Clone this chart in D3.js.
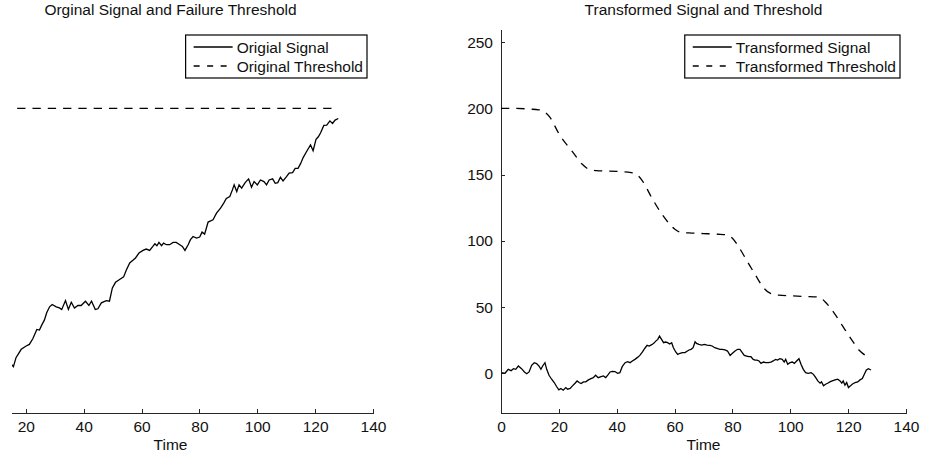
<!DOCTYPE html>
<meta charset="utf-8">
<style>

body {
  margin: 0;
  background-color: white;
}

text {
  font-family: "Liberation Sans", Arial, sans-serif;
  font-size: 15.5px;
  fill: #111;
}

.axis path,
.axis line {
  stroke: #262626;
  shape-rendering: crispEdges;
}

.signal, .threshold {
  fill: none;
  stroke: black;
  stroke-width: 1.3;
}

.threshold {
  stroke-dasharray: 8.3, 7;
}

</style>
<body>

<script src="https://d3js.org/d3.v7.min.js"></script>
<script>

// Original signal
var origTime = [15,15.7,16.6,18.4,20.1,21.2,22.4,23.8,24.7,25.6,26.4,27.2,28.2,29.1,30.5,31.6,32.4,33.7,34.7,35.7,
  36.8,38,39.1,40.6,41.8,42.7,44,44.9,46.1,47.8,48.9,49.9,51,52.4,53.8,54.7,55.9,57,57.9,59.1,
  60.5,61.6,62.8,63.9,64.6,65.3,66,66.9,67.6,68.6,69.7,70.9,72,73.2,74.1,75,76.1,76.9,77.8,79,
  80.1,80.9,81.8,83,84.7,85.9,87.3,88.4,89.3,90.5,91.4,92,92.9,93.7,94.6,95.8,97,98,98.9,100,
  101.1,102.3,103.2,104.1,105.3,106.2,107.1,108,108.9,110.1,111,112.2,113.1,114.1,115,115.9,117,118.4,119.3,120.3,
  121.1,121.9,123,124,125.1,126,126.9,128];
var origSignal = [6.8,5,11.8,18.1,20.6,21.8,26.1,33.1,32.6,36.9,40.1,45.7,50.2,51.9,50.2,49.4,48.2,54.9,48.2,53.7,
  49.2,51.2,51.2,54.4,51.2,54.4,48.2,48.7,53.2,54.9,54.4,64.5,68.7,70.8,72.8,77.8,83.3,85.3,87.1,90.8,
  92.8,93.8,92.8,95.8,97.8,96.3,98.8,96.3,98.3,97.1,97.1,98.8,98.8,97.1,95.8,92.8,97.1,100.9,103.3,102.1,
  102.9,106.6,105.1,114.2,115.9,120.9,124.7,128.5,132,133.5,138.5,142.3,137.2,142.3,139.8,144,146.8,140.5,144.8,142.3,
  146,144.8,142.3,146,146.8,143.5,144,148,145.3,148.5,151.1,151.5,154.8,154.8,158.5,163.1,167.3,172.4,168.1,176.6,
  178.6,181.6,187.2,187.4,190.6,188.7,191.2,192.4];

var origThreshTime = [17, 128];
var origThreshold = [200, 200];

// Transformed signal and threshold
var transTime = [0.2,1.4,2.5,3.5,4.3,5.1,6,7.1,8.1,8.9,9.7,10.6,11.5,12.3,13.1,13.8,14.4,15.2,15.8,16.6,
  17.5,18.4,19.2,20,20.7,21.5,22.4,23,23.9,24.7,25.6,26.3,27,27.7,28.5,29.3,30.2,31.1,31.9,32.7,
  33.6,34.6,35.4,36.2,37.1,37.7,38.5,39.4,40.3,41.1,41.9,42.9,43.8,44.6,45.4,46.3,47.2,48,48.9,49.8,
  50.5,51.2,52.1,52.8,53.5,54.2,54.8,55.5,56.2,56.9,57.6,58.3,59,59.6,60.4,61.1,61.9,62.7,63.6,64.3,
  65,65.7,66.4,67.1,67.6,68.4,69.4,70.3,71.2,72.2,73,73.9,74.9,75.7,76.5,77.4,78.3,79.2,80,80.9,
  81.8,82.6,83.4,84.1,84.9,85.7,86.4,87.2,87.8,88.5,89.2,89.9,90.7,91.5,92.4,93.3,94.1,94.9,95.6,96.4,
  97.2,97.9,98.4,99.1,99.9,100.7,101.4,102.2,103,103.7,104.5,105.3,106.2,107.2,108,108.8,109.5,110.3,110.8,111.5,
  112.2,112.9,113.7,114.5,115.5,116.4,117.2,117.8,118.3,118.9,119.5,120.1,120.8,121.4,122.4,123.3,124.1,124.9,125.6,126.3,
  127,127.9];
var transSignal = [0.5,0,3,2,3.5,3,5.5,3.5,1,-0.3,1,6,8,7.3,5.5,3,5.5,8,3,-1.5,
  -4.5,-7,-10,-12.5,-11.5,-12.8,-10.8,-12,-11.5,-9.5,-7.5,-5.8,-7,-7.8,-6.5,-6.5,-5,-4,-3.3,-1.5,
  -3.3,-2.5,-2,-3.3,-0.8,1,1.5,1.3,0,0.5,5,8,8.8,8,9.3,10.5,12,13.5,16.1,19.1,
  21.1,20.6,21.6,22.6,24.3,25.6,28.1,25.6,23.1,23.6,23.1,22.1,23.1,19.3,16.1,14.3,15.1,15.6,15.6,16.6,
  17.6,18.1,19.3,23.8,22.6,21.8,21.3,21.8,21.3,21.1,20.6,19.3,18.6,18.1,18.1,17.6,16.8,13.5,15.1,16.8,
  18.1,18.1,15.6,13.5,13,12.5,12.5,10.5,10,10,9.3,7.5,8.5,8,8,8.5,9.3,10.5,10,11,
  10.5,8.5,10.5,6.8,8,8.5,7.5,9.3,11,6.8,3,0.5,0,0.5,-0.8,-3.3,-5.8,-7.5,-6.5,-9.5,
  -8.3,-7.5,-6.5,-5.8,-5,-4.5,-5.8,-7.5,-5.8,-9,-7,-10.8,-9.5,-8.3,-7,-6.5,-5,-4,-0.8,2.5,
  3.5,2.5];

var transThreshTime = [0,5,10,13,15,17,20,25,28,30,33,40,45,47,49,52,56,60,62,65,
  70,75,78,80,82,85,88,91,93,96,100,105,110,112,115,118,121,124,126,127.5];
var transThreshold = [200,200,199.5,199,197.5,193,181,166.5,158,154.5,153,152.5,151.5,150,145,133,119,109,106.5,106,
  105.5,105,104.5,102,96,85,74,64,60.5,59,58.5,58,57.5,54,46,36,26,17,13.5,12];

// the left panel is cropped, so its 0 tick and y axis are not in the picture
var xTicksLeft = [20, 40, 60, 80, 100, 120, 140];
var xTicksRight = [0, 20, 40, 60, 80, 100, 120, 140];
var yTicks = [0, 50, 100, 150, 200, 250];

var width = 930,
    height = 457;

var svg = d3.select("body").append("svg")
    .attr("width", width)
    .attr("height", height);

svg.append("clipPath")
    .attr("id", "cropLeft")
  .append("rect")
    .attr("x", 12)
    .attr("y", 0)
    .attr("width", width)
    .attr("height", height);

function drawPanel(g, opts) {
  var x = d3.scaleLinear().domain([0, 140]).range(opts.xRange);
  var y = d3.scaleLinear().domain([-30, 260]).range([413, 29]);
  var cx = (opts.xRange[0] + opts.xRange[1]) / 2;

  g.append("text")
      .attr("x", cx)
      .attr("y", 15)
      .attr("text-anchor", "middle")
      .text(opts.title);

  g.append("g")
      .attr("class", "axis")
      .attr("transform", "translate(0,413)")
      .call(d3.axisBottom(x).tickValues(opts.xTicks).tickSizeInner(-4).tickSizeOuter(0).tickPadding(8));

  if (opts.yAxis) {
    g.append("g")
        .attr("class", "axis")
        .attr("transform", "translate(" + opts.xRange[0] + ",0)")
        .call(d3.axisLeft(y).tickValues(yTicks).tickSizeInner(-4).tickSizeOuter(0).tickPadding(8));
  }

  g.selectAll(".axis text")
      .style("font-family", '"Liberation Sans", Arial, sans-serif')
      .style("font-size", "15.5px")
      .style("fill", "#111");

  g.append("text")
      .attr("x", cx)
      .attr("y", 450)
      .attr("text-anchor", "middle")
      .text("Time");

  var line = d3.line()
      .x(function(d) { return x(d[0]); })
      .y(function(d) { return y(d[1]); });

  g.append("path")
      .attr("class", "threshold")
      .attr("d", line.curve(d3.curveMonotoneX)(d3.zip(opts.threshTime, opts.threshold)));

  g.append("path")
      .attr("class", "signal")
      .attr("d", line.curve(d3.curveLinear)(d3.zip(opts.time, opts.signal)));

  // legend, top right corner
  var legend = g.append("g");
  var box = legend.append("rect")
      .attr("fill", "white")
      .attr("stroke", "black")
      .attr("stroke-width", 1.2);

  var labels = legend.selectAll("g.item")
      .data(opts.labels)
    .enter().append("g")
      .attr("class", "item")
      .attr("transform", function(d, i) { return "translate(0," + (12 + i * 19) + ")"; });

  labels.append("line")
      .attr("x1", 8)
      .attr("x2", 47)
      .attr("stroke", "black")
      .attr("stroke-width", 1.3)
      .attr("stroke-dasharray", function(d, i) { return i ? "6,7.5" : null; });

  labels.append("text")
      .attr("x", 51)
      .attr("dy", "0.36em")
      .text(function(d) { return d; });

  var maxW = d3.max(labels.selectAll("text").nodes(), function(n) { return n.getComputedTextLength(); });
  var boxW = 51 + maxW + 4;
  box.attr("x", 0).attr("y", 0).attr("width", boxW).attr("height", 43);
  legend.attr("transform", "translate(" + (opts.xRange[1] - 6 - boxW) + ",35)");
}

drawPanel(svg.append("g").attr("clip-path", "url(#cropLeft)"), {
  xRange: [-32, 373],
  xTicks: xTicksLeft,
  yAxis: false,
  title: "Orginal Signal and Failure Threshold",
  labels: ["Origial Signal", "Original Threshold"],
  time: origTime, signal: origSignal,
  threshTime: origThreshTime, threshold: origThreshold
});

drawPanel(svg.append("g"), {
  xRange: [501, 906],
  xTicks: xTicksRight,
  yAxis: true,
  title: "Transformed Signal and Threshold",
  labels: ["Transformed Signal", "Transformed Threshold"],
  time: transTime, signal: transSignal,
  threshTime: transThreshTime, threshold: transThreshold
});

</script>
